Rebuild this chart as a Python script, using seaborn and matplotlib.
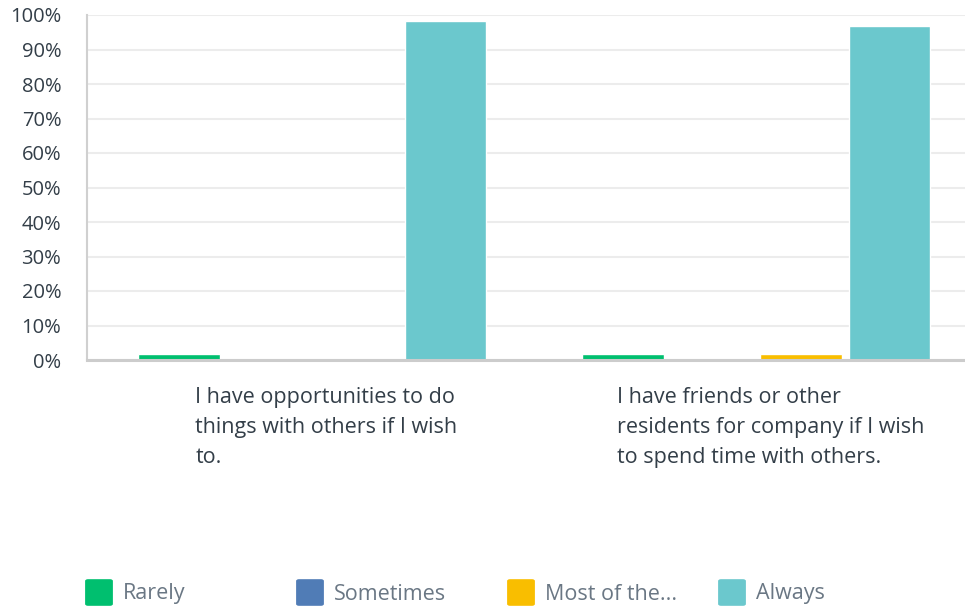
import matplotlib
matplotlib.use("Agg")
import matplotlib.pyplot as plt
import matplotlib.transforms as mtransforms
import seaborn as sns
import pandas as pd
from matplotlib.patches import FancyBboxPatch
from matplotlib.ticker import FixedLocator

categories = [
    "I have opportunities to do\nthings with others if I wish\nto.",
    "I have friends or other\nresidents for company if I wish\nto spend time with others.",
]
series = ["Rarely", "Sometimes", "Most of the...", "Always"]
values = {
    "Rarely": [1.6, 1.6],
    "Sometimes": [0.0, 0.0],
    "Most of the...": [0.0, 1.6],
    "Always": [98.4, 96.8],
}
colors = ["#00bf6f", "#507cb6", "#f9be00", "#6bc8cd"]
y_ticks = list(range(0, 101, 10))
y_labels = [f"{t}%" for t in y_ticks]

rows = []
for s in series:
    for i, c in enumerate(categories):
        rows.append({"cat": c, "series": s, "value": values[s][i]})
df = pd.DataFrame(rows)

sns.set_theme(style="white")
plt.rcParams["font.family"] = ["Open Sans", "DejaVu Sans"]

W, H = 965, 607
fig = plt.figure(figsize=(W / 100, H / 100), dpi=100)
ax = fig.add_axes([87 / W, 1 - 360 / H, (W - 87) / W, (360 - 15) / H])

sns.barplot(data=df, x="cat", y="value", hue="series", order=categories,
            hue_order=series, palette=colors, width=0.8, gap=0.08,
            saturation=1, legend=False, ax=ax, zorder=3)

ax.set_xlim(-0.507, 1.47)
ax.set_ylim(0, 100)
ax.yaxis.set_major_locator(FixedLocator(y_ticks))
ax.set_yticklabels(y_labels, fontsize=14.5, color="#333e48")
ax.tick_params(axis="y", length=0, pad=18.5)
ax.tick_params(axis="x", length=0)
ax.set_xticks([0, 1])
ax.set_xticklabels(["", ""])
ax.set_xlabel("")
ax.set_ylabel("")
ax.grid(axis="y", color="#ececec", linewidth=1.5, zorder=0)
ax.set_axisbelow(True)
for side in ["top", "right"]:
    ax.spines[side].set_visible(False)
ax.spines["left"].set_color("#d0d0d0")
ax.spines["left"].set_linewidth(1.5)
ax.spines["bottom"].set_color("#cccccc")
ax.spines["bottom"].set_linewidth(2.2)
ax.spines["bottom"].set_zorder(4)

# category labels (wrapped, left-aligned block)
trans = mtransforms.blended_transform_factory(ax.transData, fig.transFigure)
for i, c in enumerate(categories):
    ax.text(i + 0.032, 1 - 387 / H, c, transform=trans, ha="center", va="top",
            multialignment="left", fontsize=15.5, color="#333e48",
            linespacing=1.55, clip_on=False)

# legend
x0 = 85
for k, (s, col) in enumerate(zip(series, colors)):
    x = x0 + k * 211
    box = FancyBboxPatch(((x + 3) / W, 1 - 604 / H), 22 / W, 23 / H,
                         boxstyle="round,pad=0.003", transform=fig.transFigure,
                         facecolor=col, edgecolor="none")
    fig.add_artist(box)
    fig.text((x + 38) / W, 1 - 594 / H, s, ha="left", va="center",
             fontsize=15.5, color="#6a7784")

fig.savefig("out.png", dpi=100)
